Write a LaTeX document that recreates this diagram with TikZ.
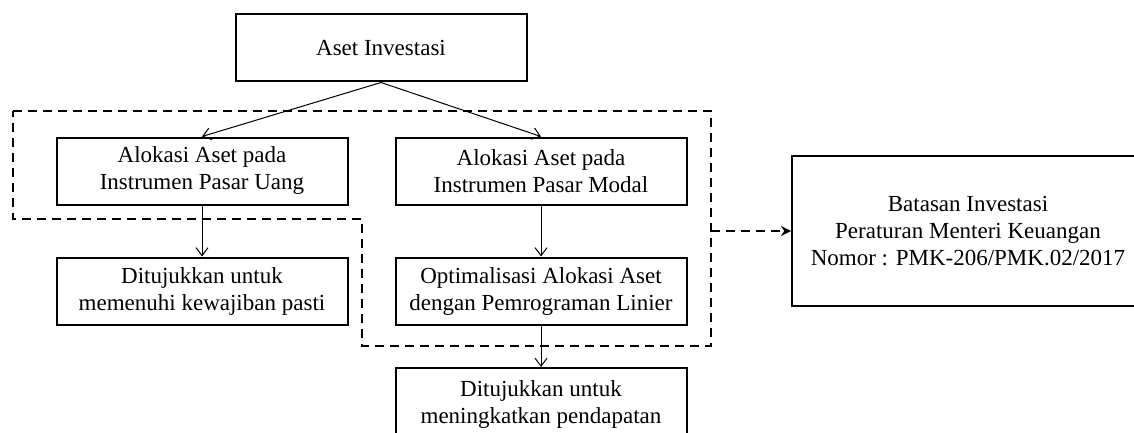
\documentclass[tikz,border=0pt]{standalone}
\usepackage{fontspec}
\setmainfont{Liberation Serif}
\usetikzlibrary{arrows.meta}

\begin{document}
\begin{tikzpicture}[x=0.5pt,y=-0.5pt,
  kotak/.style={draw,line width=1pt,align=center,minimum width=145.5pt,
    minimum height=33.5pt,inner sep=0pt,font=\fontsize{11.5}{13.5}\selectfont},
  panah/.style={-{Straight Barb[length=4pt,width=6pt]},line width=0.5pt},
  putus/.style={line width=1.2pt,dash pattern=on 4.5pt off 3pt}]
%\draw[help lines] (0,0) grid (1134,433);
\useasboundingbox (0,0) rectangle (1134,433);

\node[kotak] (aset) at (381,48) {Aset Investasi};
\node[kotak] (uang) at (202,171) {Alokasi Aset pada\\Instrumen Pasar Uang};
\node[kotak] (modal) at (541,171) {Alokasi Aset pada\\Instrumen Pasar Modal};
\node[kotak] (pasti) at (202,291) {Ditujukkan untuk\\memenuhi kewajiban pasti};
\node[kotak] (opt) at (541,291) {Optimalisasi Alokasi Aset\\dengan Pemrograman Linier};
\node[kotak,minimum height=36pt] (dapat) at (541,404)
  {Ditujukkan untuk\\meningkatkan pendapatan};
\node[kotak,minimum width=176pt,minimum height=75pt] (batas) at (968,231)
  {Batasan Investasi\\Peraturan Menteri Keuangan\\Nomor : PMK-206/PMK.02/2017};

\draw[panah] (aset.south) -- (uang.north);
\draw[panah] (aset.south) -- (modal.north);
\draw[panah] (uang) -- (pasti);
\draw[panah] (modal) -- (opt);
\draw[panah] (opt) -- (dapat);

% daerah putus-putus
\draw[putus] (13,111) -- (711,111) -- (711,346) -- (362,346)
  -- (362,219) -- (13,219) -- cycle;
\coordinate (keluar) at (711,231);
\draw[putus,-{Stealth[length=5pt,width=5pt]}] (keluar) -- (batas.west);
\end{tikzpicture}
\end{document}
